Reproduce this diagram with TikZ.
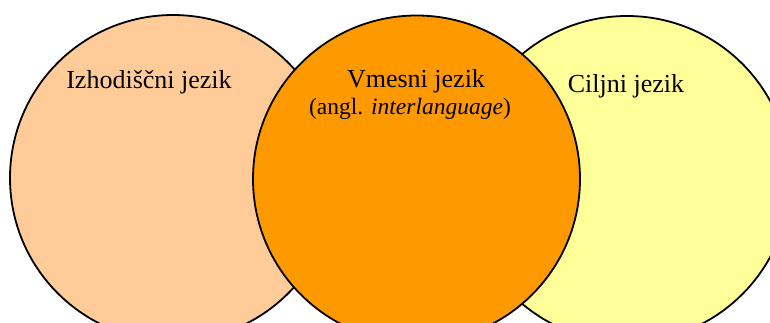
\documentclass[tikz,border=0pt]{standalone}
\usepackage{fontspec}
\setmainfont{Liberation Serif}
\usetikzlibrary{shapes.geometric}

\definecolor{peach}{HTML}{FFCC99}
\definecolor{amber}{HTML}{FF9900}
\definecolor{paleyellow}{HTML}{FFFF99}

\tikzset{
  langcircle/.style={circle, draw=black, line width=1.8pt, inner sep=0pt,
                     minimum size=#1},
  title/.style={anchor=base, inner sep=0pt, font=\fontsize{26}{30}\selectfont},
  subtitle/.style={anchor=base, inner sep=0pt, font=\fontsize{23.5}{28}\selectfont}
}

\begin{document}
\begin{tikzpicture}[x=1pt, y=-1pt]
  \useasboundingbox (0,0) rectangle (770,323);
  \begin{scope}
    \clip (0,0) rectangle (770,323);
    % source and target language, behind the interlanguage
    \node[langcircle=326pt, fill=peach] (src) at (173,178) {};
    \node[langcircle=326pt, fill=paleyellow] (tgt) at (627,179) {};
    % interlanguage in the middle, drawn on top
    \node[langcircle=327pt, fill=amber] (mid) at (416.5,179) {};
  \end{scope}

  \node[title] (srclabel) at (149,89) {Izhodiščni jezik};
  \node[title] (midlabel) at (416,88) {Vmesni jezik};
  \node[subtitle] (midsub) at (410,115) {(angl. \textit{interlanguage})};
  \node[title] (tgtlabel) at (626,93) {Ciljni jezik};
\end{tikzpicture}
\end{document}
